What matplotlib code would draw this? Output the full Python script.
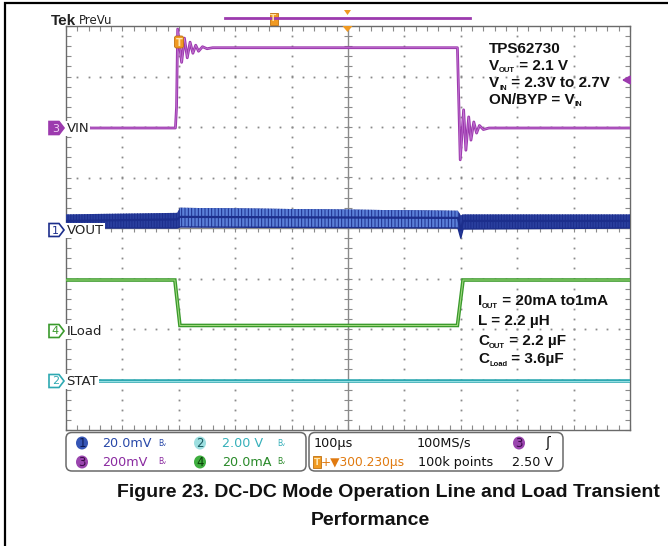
import numpy as np
import matplotlib
matplotlib.use("Agg")
import matplotlib.pyplot as plt
from matplotlib.patches import Polygon, FancyBboxPatch, Ellipse, Rectangle

# ---------------- data (x in time divisions of 100 us, y in vertical divisions) ----------------
vin_t = [0.0, 1.94, 1.96, 1.98, 2.05, 2.10, 2.15, 2.20, 2.25, 2.30, 2.35, 2.42, 2.50, 2.60,
         6.94, 6.99, 7.05, 7.09, 7.14, 7.18, 7.23, 7.28, 7.33, 7.40, 7.50, 10.0]
vin_v = [5.98, 5.98, 6.40, 7.94, 7.28, 7.76, 7.37, 7.68, 7.46, 7.62, 7.50, 7.59, 7.55, 7.57,
         7.57, 5.35, 6.34, 5.54, 6.20, 5.74, 6.10, 5.88, 6.03, 5.95, 5.98, 5.98]

vout_t = [0.0, 1.97, 2.02, 6.95, 7.00, 7.04, 10.0]
vout_hi = [4.27, 4.30, 4.40, 4.34, 4.25, 4.27, 4.27]
vout_lo = [4.00, 4.00, 4.02, 4.00, 3.80, 3.98, 4.00]
vout_mid = [4.14, 4.17, 4.22, 4.20, 3.95, 4.14, 4.14]
vout_step_start = 2.0
vout_step_end = 6.95

iload_t = [0.0, 1.93, 2.02, 6.94, 7.04, 10.0]
iload_v = [2.97, 2.97, 2.07, 2.07, 2.97, 2.97]

stat_t = [0.0, 10.0]
stat_v = [0.97, 0.97]

channel_labels = ["VIN", "VOUT", "ILoad", "STAT"]
channel_ids = ["3", "1", "4", "2"]
scale_row1 = ["20.0mV", "2.00 V"]
scale_row2 = ["200mV", "20.0mA"]
timebase = ["100\u00b5s", "100MS/s", "100k points", "2.50 V"]
trigger_pos = "+\u25bc300.230\u00b5s"
caption1 = "Figure 23. DC-DC Mode Operation Line and Load Transient"
caption2 = "Performance"

# ---------------- colours ----------------
C_VIN = "#9c3aae"
C_VIN_L = "#c77ad6"
C_VOUT = "#1c2e8c"
C_VOUT_D = "#2a3f9e"
C_VOUT_L = "#5b80d8"
C_IL = "#3a9a2c"
C_IL_L = "#a6dc84"
C_ST = "#2ea9b2"
C_ST_L = "#98e0e4"
C_OR = "#f09a22"
GRID = "#8a8a8a"

plt.rcParams["hatch.linewidth"] = 0.7

W, H = 668, 546
fig = plt.figure(figsize=(W / 100, H / 100), dpi=100)
fig.patch.set_facecolor("white")

# ---------------- graticule axes ----------------
x0, x1, y0, y1 = 66, 630, 26, 430
ax = fig.add_axes([x0 / W, 1 - y1 / H, (x1 - x0) / W, (y1 - y0) / H])
ax.set_xlim(0, 10)
ax.set_ylim(0, 8)
ax.set_xticks(np.arange(0, 10.01, 1))
ax.set_yticks(np.arange(0, 8.01, 1))
ax.set_xticks(np.arange(0, 10.01, 0.2), minor=True)
ax.set_yticks(np.arange(0, 8.01, 0.2), minor=True)
ax.tick_params(which="both", direction="in", length=3.5, width=0.8, color=GRID,
               top=True, right=True, labelbottom=False, labelleft=False)
for s in ax.spines.values():
    s.set_color("#6a6a6a")
    s.set_linewidth(1.0)

fine_x = np.arange(0.2, 10, 0.2)
fine_y = np.arange(0.2, 8, 0.2)
for i in range(1, 10):
    if i == 5:
        continue
    ax.plot(np.full_like(fine_y, i), fine_y, ls="none", marker="s", ms=1.3, mew=0, color=GRID)
for j in range(1, 8):
    if j == 4:
        continue
    ax.plot(fine_x, np.full_like(fine_x, j), ls="none", marker="s", ms=1.3, mew=0, color=GRID)
ax.axvline(5, color=GRID, lw=1.0)
ax.axhline(4, color=GRID, lw=1.0)
ax.plot(np.full_like(fine_y, 5), fine_y, ls="none", marker="_", ms=6, mew=0.8, color=GRID)
ax.plot(fine_x, np.full_like(fine_x, 4), ls="none", marker="|", ms=6, mew=0.8, color=GRID)

# ---------------- traces ----------------
vt = np.array(vout_t)
mask = (vt >= vout_step_start - 0.001) & (vt <= vout_step_end + 0.001)
ax.fill_between(vt, vout_lo, vout_hi, color=C_VOUT_D, lw=0, zorder=3,
                hatch="||||||", edgecolor=C_VOUT)
ax.fill_between(vt, vout_lo, vout_hi, where=mask, facecolor=C_VOUT_L, lw=0, zorder=3.1,
                hatch="|||||", edgecolor=C_VOUT)
ax.plot(vout_t, vout_mid, color=C_VOUT, lw=1.6, zorder=3.2)
ax.plot(vout_t, vout_lo, color=C_VOUT, lw=1.0, zorder=3.2)

ax.plot(stat_t, stat_v, color=C_ST, lw=2.6, zorder=4, solid_capstyle="butt")
ax.plot(stat_t, stat_v, color=C_ST_L, lw=0.7, zorder=4.1)
ax.plot(iload_t, iload_v, color=C_IL, lw=2.6, zorder=4, solid_joinstyle="miter")
ax.plot(iload_t, iload_v, color=C_IL_L, lw=0.7, zorder=4.1)
ax.plot(vin_t, vin_v, color=C_VIN, lw=2.0, zorder=5)
ax.plot(vin_t, vin_v, color=C_VIN_L, lw=0.5, zorder=5.1)

# ---------------- overlay in pixel coordinates ----------------
ov = fig.add_axes([0, 0, 1, 1])
ov.set_xlim(0, W)
ov.set_ylim(H, 0)
ov.axis("off")
ov.patch.set_visible(False)

# outer table frame
ov.plot([5, 5, W + 2], [H + 2, 3, 3], color="black", lw=1.6, solid_joinstyle="miter")

SCOPE = dict(family="DejaVu Sans")

# header
ov.text(51, 25, "Tek", fontsize=11, fontweight="bold", color="#222", va="baseline",
        family="Liberation Sans")
ov.text(79, 24, "PreVu", fontsize=8.5, color="#222", va="baseline", **SCOPE)
ov.plot([225, 470], [18, 18], color=C_VIN, lw=2.0)
ov.add_patch(Rectangle((269.5, 12.5), 8, 12, fc=C_OR, ec="#c07010", lw=0.6))
ov.text(273.5, 18.8, "T", fontsize=6.5, color="#ffe0a0", ha="center", va="center", fontweight="bold")
ov.add_patch(Polygon([[344, 10], [351, 10], [347.5, 15]], closed=True, fc=C_OR, ec="none"))
ov.add_patch(Polygon([[342.5, 26], [352.5, 26], [347.5, 32]], closed=True, fc=C_OR, ec="none"))
# trigger marker on trace
ov.add_patch(FancyBboxPatch((174.5, 36), 9, 12, boxstyle="round,pad=0,rounding_size=2",
                            fc=C_OR, ec="#c07010", lw=0.6, zorder=6))
ov.text(179, 42.5, "T", fontsize=7, color="#ffe6b0", ha="center", va="center",
        fontweight="bold", zorder=7)
# trigger level arrow at right
ov.annotate("", xy=(619, 80), xytext=(629, 80),
            arrowprops=dict(arrowstyle="-|>,head_width=0.25,head_length=0.45", color=C_VIN, lw=1.4))


def chan_marker(y, num, col, filled):
    pts = [[49, y - 6.5], [59, y - 6.5], [64, y], [59, y + 6.5], [49, y + 6.5]]
    ov.add_patch(Polygon(pts, closed=True, fc=col if filled else "white", ec=col, lw=1.2, zorder=8))
    ov.text(55.5, y + 0.5, num, fontsize=8, color="#f0d0f4" if filled else col,
            ha="center", va="center", zorder=9, **SCOPE)


label_rows = [(128, C_VIN, True), (230, C_VOUT, False), (331, C_IL, False), (381, C_ST, False)]
for (yy, col, filled), lab, cid in zip(label_rows, channel_labels, channel_ids):
    chan_marker(yy, cid, col, filled)
    ov.text(66.5, yy + 0.5, lab, fontsize=9.5, color="#222", ha="left", va="center", zorder=8,
            bbox=dict(boxstyle="square,pad=0.08", fc="white", ec="none"), **SCOPE)

# ---------------- rich annotation text ----------------
renderer = fig.canvas.get_renderer()
BOLD = dict(family="Liberation Sans", fontweight="bold", color="#111")


def rich(x, y, parts):
    for s, size, dy in parts:
        t = ov.text(x, y + dy, s, fontsize=size, va="baseline", ha="left", zorder=10, **BOLD)
        bb = t.get_window_extent(renderer)
        x += bb.width


FS, SS = 11, 5.5
rich(489, 53, [("TPS62730", FS, 0)])
rich(489, 70, [("V", FS, 0), ("OUT", SS, 2.5), (" = 2.1 V", FS, 0)])
rich(489, 87, [("V", FS, 0), ("IN", SS, 2.5), (" = 2.3V to 2.7V", FS, 0)])
rich(489, 104, [("ON/BYP = V", FS, 0), ("IN", SS, 2.5)])
rich(478, 305, [("I", FS, 0), ("OUT", SS, 2.5), (" = 20mA to1mA", FS, 0)])
rich(478, 325, [("L = 2.2 \u00b5H", FS, 0)])
rich(478, 345, [("C", FS, 0), ("OUT", SS, 2.5), (" = 2.2 \u00b5F", FS, 0)])
rich(478, 363, [("C", FS, 0), ("Load", SS, 2.5), (" = 3.6\u00b5F", FS, 0)])

# ---------------- bottom readout panel ----------------
for bx0, bx1 in [(66, 306), (309, 563)]:
    ov.add_patch(FancyBboxPatch((bx0, 432.5), bx1 - bx0, 38.5,
                                boxstyle="round,pad=0,rounding_size=6",
                                fc="white", ec="#6a6a6a", lw=1.1))


def chan_circle(x, y, num, fc, tc):
    ov.add_patch(Ellipse((x, y), 12, 13, fc=fc, ec="none", zorder=5))
    ov.text(x, y + 0.5, num, fontsize=8.5, color=tc, ha="center", va="center", zorder=6, **SCOPE)


PFS = 9.2
R1, R2 = 443, 462
chan_circle(82, R1, "1", "#3555b5", "#0d1a55")
chan_circle(82, R2, "3", "#9a45ae", "#3a0a48")
chan_circle(200, R1, "2", "#9ddfe0", "#1a5a60")
chan_circle(200, R2, "4", "#3fae3f", "#0a400a")
panel = [(102, R1, scale_row1[0], "#2848a8"), (102, R2, scale_row2[0], "#8a2aa0"),
         (222, R1, scale_row1[1], "#36b0ba"), (222, R2, scale_row2[1], "#2a8a2a")]
for px, py, s, c in panel:
    ov.text(px, py + 0.5, s, fontsize=PFS, color=c, ha="left", va="center", **SCOPE)
for px, py, c in [(162, R1, "#2848a8"), (162, R2, "#8a2aa0"), (281, R1, "#36b0ba"), (281, R2, "#2a8a2a")]:
    ov.text(px, py, "B\u1d65", fontsize=5.5, color=c, ha="center", va="center")

ov.text(314, R1 + 0.5, timebase[0], fontsize=PFS, color="#111", ha="left", va="center", **SCOPE)
ov.text(417, R1 + 0.5, timebase[1], fontsize=PFS, color="#111", ha="left", va="center", **SCOPE)
ov.text(418, R2 + 0.5, timebase[2], fontsize=PFS, color="#111", ha="left", va="center", **SCOPE)
ov.text(553, R2 + 0.5, timebase[3], fontsize=PFS, color="#111", ha="right", va="center", **SCOPE)
chan_circle(519, R1, "3", "#9a45ae", "#3a0a48")
ov.text(548, R1 + 0.5, "\u0283", fontsize=10, color="#111", ha="center", va="center")
ov.add_patch(Rectangle((312.5, R2 - 6), 8, 12, fc=C_OR, ec="#c07010", lw=0.6))
ov.text(316.5, R2 + 0.5, "T", fontsize=6.5, color="#ffe6b0", ha="center", va="center", fontweight="bold")
ov.text(321, R2 + 0.5, trigger_pos, fontsize=PFS - 0.4, color="#e07a10", ha="left", va="center", **SCOPE)

# ---------------- caption ----------------
ov.text(117, 497, caption1, fontsize=14, ha="left", va="baseline", **BOLD)
ov.text(370, 525, caption2, fontsize=14, ha="center", va="baseline", **BOLD)

fig.savefig("out.png", dpi=100, facecolor="white")
